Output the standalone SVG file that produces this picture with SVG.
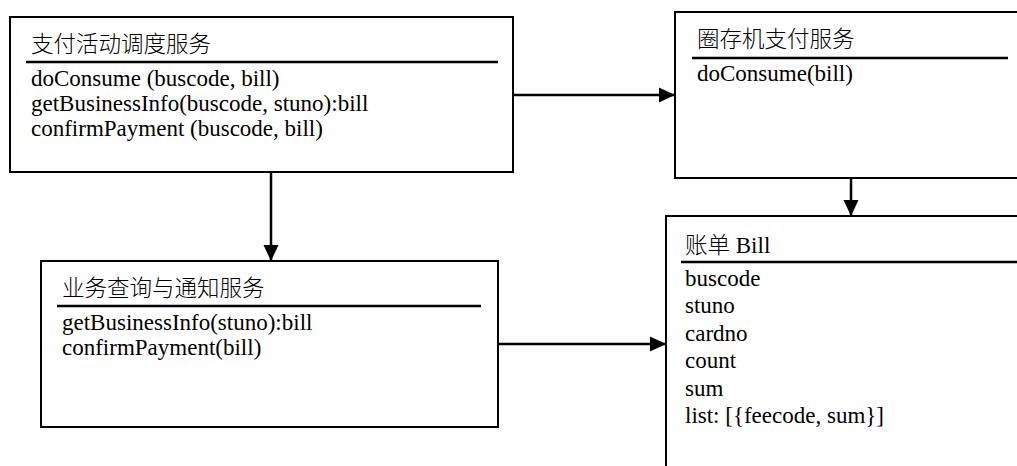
<svg xmlns="http://www.w3.org/2000/svg" width="1017" height="466" viewBox="0 0 1017 466">
<style>
.box{fill:#fff;stroke:#000;stroke-width:2}
.sep{stroke:#000;stroke-width:2.5}
.t{font-family:'Liberation Serif','Times New Roman',Tinos,'DejaVu Serif',serif;font-size:23px;fill:#000}
.c{font-family:'Noto Sans CJK SC','Noto Sans CJK JP',sans-serif;font-size:22.5px;font-weight:300;fill:#000}
.edge{stroke:#000;stroke-width:2.5;fill:none}
</style>
<defs>
<marker id="arr" markerUnits="userSpaceOnUse" markerWidth="16" markerHeight="16" viewBox="0 0 16 16" refX="16" refY="8" orient="auto">
<path d="M0,0.5 L16,8 L0,15.5 Z" fill="#000"/>
</marker>
</defs>
<rect width="1017" height="466" fill="#fff"/>
<g id="n1">
<rect class="box" x="10" y="17" width="503" height="155"/>
<line class="sep" x1="26" y1="62" x2="498" y2="62"/>
<text class="c" x="31" y="52">支付活动调度服务</text>
<text class="t" x="31" y="86">doConsume (buscode, bill)</text>
<text class="t" x="31" y="111">getBusinessInfo(buscode, stuno):bill</text>
<text class="t" x="31" y="136">confirmPayment (buscode, bill)</text>
</g>
<g id="n2">
<rect class="box" x="675" y="12" width="360" height="166"/>
<line class="sep" x1="692" y1="58" x2="1008" y2="58"/>
<text class="c" x="697" y="47">圈存机支付服务</text>
<text class="t" x="697" y="81">doConsume(bill)</text>
</g>
<g id="n3">
<rect class="box" x="666" y="216" width="370" height="270"/>
<line class="sep" x1="681" y1="262" x2="1017" y2="262"/>
<text x="685" y="253"><tspan class="c">账单</tspan><tspan class="t"> Bill</tspan></text>
<text class="t" x="685" y="286">buscode</text>
<text class="t" x="685" y="313">stuno</text>
<text class="t" x="685" y="341">cardno</text>
<text class="t" x="685" y="368">count</text>
<text class="t" x="685" y="396">sum</text>
<text class="t" x="685" y="423">list: [{feecode, sum}]</text>
</g>
<g id="n4">
<rect class="box" x="41" y="261" width="457" height="166"/>
<line class="sep" x1="57" y1="306" x2="481" y2="306"/>
<text class="c" x="62" y="296">业务查询与通知服务</text>
<text class="t" x="62" y="330">getBusinessInfo(stuno):bill</text>
<text class="t" x="62" y="355">confirmPayment(bill)</text>
</g>
<g id="edges">
<line class="edge" x1="513" y1="95" x2="675" y2="95" marker-end="url(#arr)"/>
<line class="edge" x1="851" y1="178" x2="851" y2="216" marker-end="url(#arr)"/>
<line class="edge" x1="271" y1="172" x2="271" y2="261" marker-end="url(#arr)"/>
<line class="edge" x1="498" y1="344" x2="666" y2="344" marker-end="url(#arr)"/>
</g>
</svg>
